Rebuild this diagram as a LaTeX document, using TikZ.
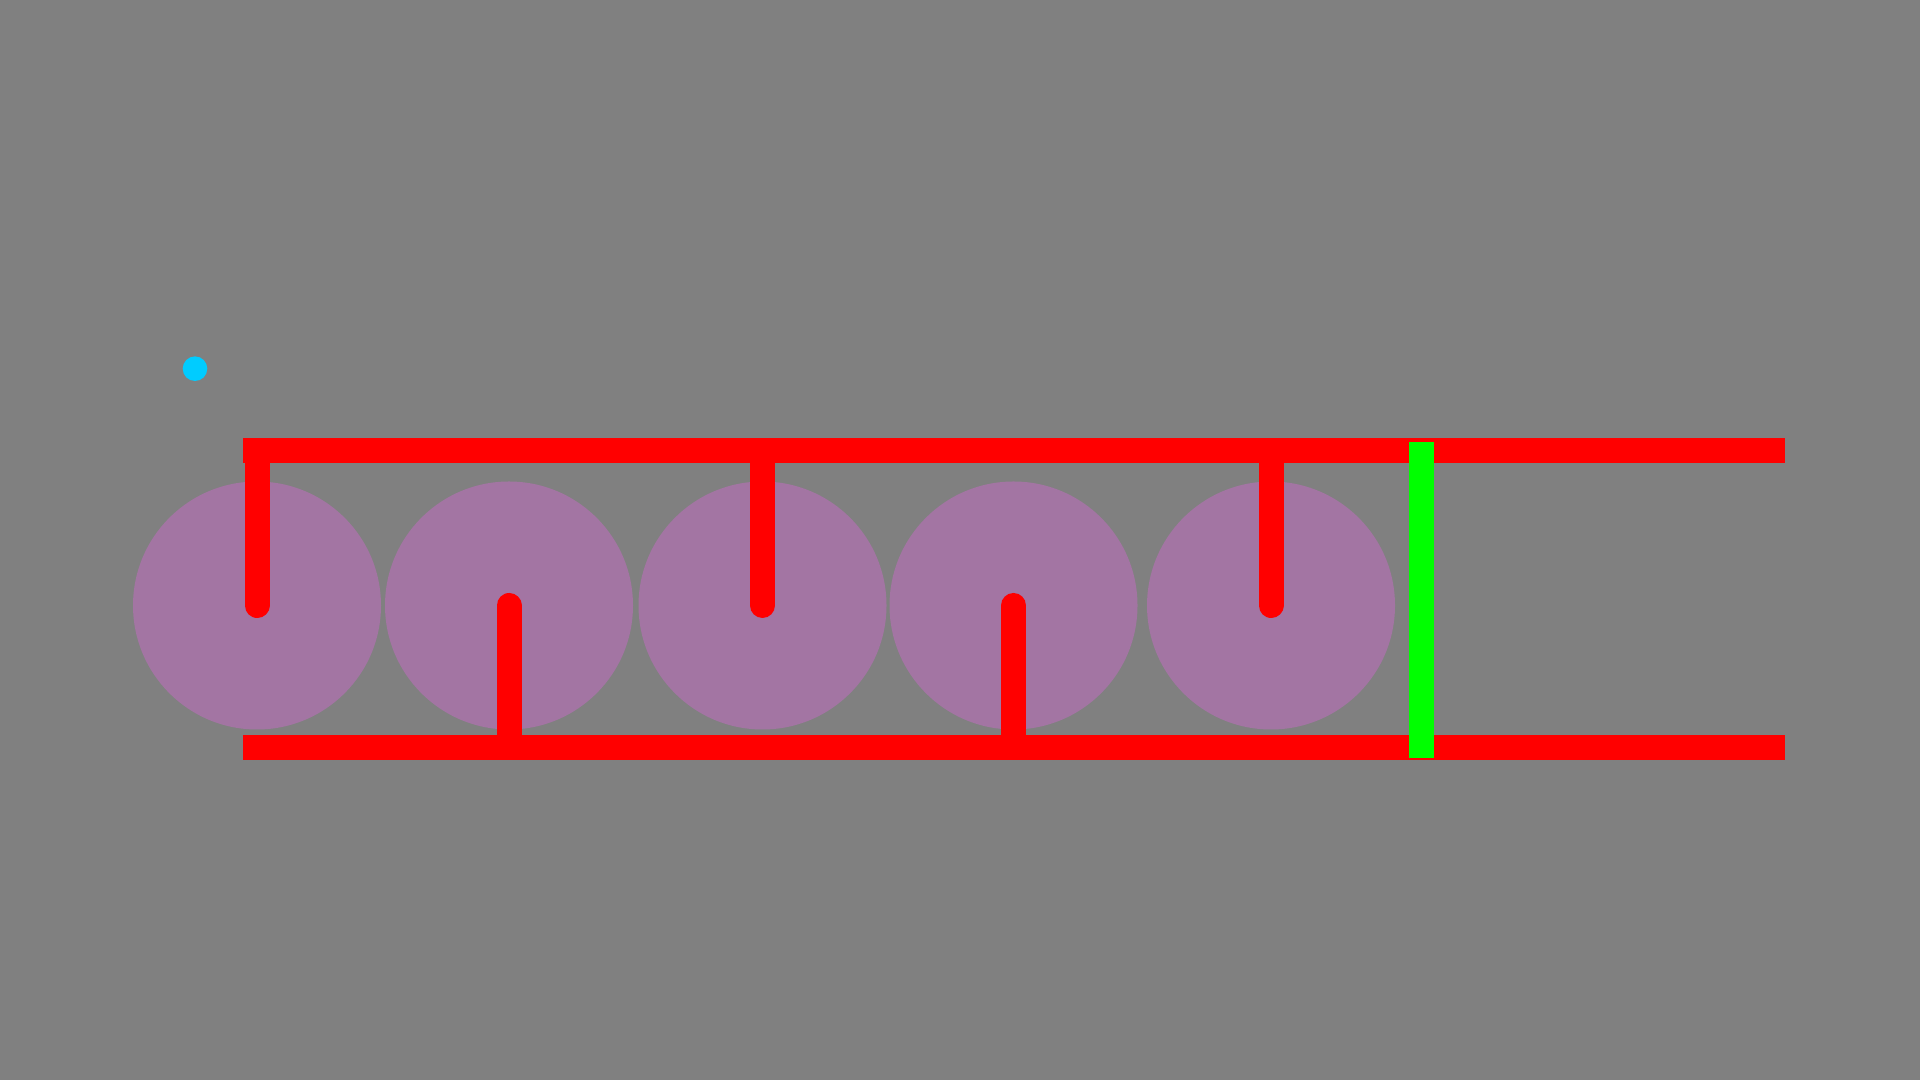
\documentclass[tikz,border=0pt]{standalone}
\usepackage{tikz}
\usetikzlibrary{positioning,calc}
\definecolor{bggray}{RGB}{128,128,128}
\definecolor{railred}{RGB}{255,0,0}
\definecolor{gatelime}{RGB}{0,255,0}
\definecolor{dotcyan}{RGB}{0,204,255}
\definecolor{wheelpurple}{RGB}{163,117,163}

\begin{document}
\begin{tikzpicture}[line width=2.5mm]
        \tikzstyle{wheel} = [circle, fill=wheelpurple, draw=none, minimum size=2.48cm, inner sep=0pt]
        \tikzstyle{marker} = [circle, fill=dotcyan, draw=none, minimum size=0.246cm, inner sep=0pt]
        \tikzstyle{rail} = [draw=railred, line cap=butt]
        \tikzstyle{spoke} = [draw=railred, line cap=round]
        \tikzstyle{gate} = [draw=gatelime, line cap=butt]

        % Background
        \fill[bggray] (0,0) rectangle (19.2,10.8);
        \useasboundingbox (0,0) rectangle (19.2,10.8);

        % Nodes
        \node[wheel] (w1) at (2.57,4.745) {};
        \node[wheel] (w2) at (5.09,4.745) {};
        \node[wheel] (w3) at (7.625,4.745) {};
        \node[wheel] (w4) at (10.135,4.745) {};
        \node[wheel] (w5) at (12.71,4.745) {};
        \node[marker] (dot) at (1.95,7.113) {};

        \coordinate (topL) at (2.43,6.292);
        \coordinate (topR) at (17.85,6.292);
        \coordinate (botL) at (2.43,3.325);
        \coordinate (botR) at (17.85,3.325);
        \coordinate (gateT) at (14.215,6.38);
        \coordinate (gateB) at (14.215,3.22);

        % Edges
        \path (topL) edge[rail] (topR);
        \path (botL) edge[rail] (botR);
        \path (w1 |- topL) edge[spoke] (w1.center);
        \path (w2 |- botL) edge[spoke] (w2.center);
        \path (w3 |- topL) edge[spoke] (w3.center);
        \path (w4 |- botL) edge[spoke] (w4.center);
        \path (w5 |- topL) edge[spoke] (w5.center);
        \path (gateT) edge[gate] (gateB);
    \end{tikzpicture}
\end{document}
